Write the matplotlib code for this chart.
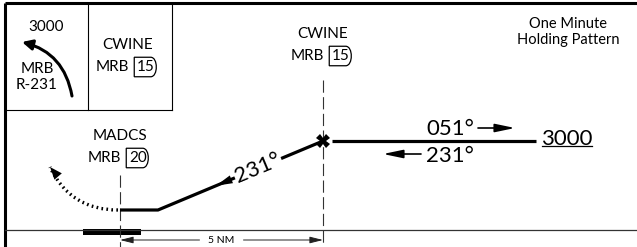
import numpy as np
import matplotlib.pyplot as plt
from matplotlib.path import Path
from matplotlib.patches import PathPatch, FancyArrowPatch, Rectangle

plt.rcParams['font.family'] = ['Lato', 'DejaVu Sans']

#===========================
# 1. PROFILE DATA (px units)
#===========================
fix_names = ["MADCS", "CWINE"]
fix_dme = ["20", "15"]
fix_x = [120, 323]
fix_label_y = [136, 34]
fix_line_top = [175, 80]

profile_x = [120, 158, 323]
profile_y = [210, 210, 141]
hold_x = [332, 536]
hold_y = [141, 141]

inbound_crs = "231°"
outbound_crs = "051°"
hold_alt = "3000"
hold_note = "One Minute\nHolding Pattern"

# procedure turn (dotted arc): start, control, end
turn_pts = [(118, 210), (70, 210), (50, 167)]

# inset box (top-left)
inset_alt = "3000"
inset_radial = "MRB\nR-231"
inset_arc = [(72, 96), (22, 42)]
inset_fix = "CWINE"
inset_dme = "15"

ground_y = 230
runway_x = [83, 141]
dist_label = "5 NM"
dist_y = 240


#=================
# 2. HELPERS
#=================
def dme_box(x0, y0, width, height, mutation_size):
    """square-left, rounded-right box used for DME fixes"""
    pad = 0.18 * mutation_size
    x0, y0 = x0 - pad, y0 - pad
    x1, y1 = x0 + width + 2 * pad, y0 + height + 2 * pad
    c = 0.35 * (y1 - y0)
    verts = [(x0, y0), (x1 - c, y0), (x1 + 0.1 * c, y0), (x1 + 0.1 * c, y1),
             (x1 - c, y1), (x0, y1), (x0, y0)]
    codes = [Path.MOVETO, Path.LINETO, Path.CURVE4, Path.CURVE4, Path.CURVE4,
             Path.LINETO, Path.CLOSEPOLY]
    return Path(verts, codes)


def fix_label(ax, x, y, name, dme, fs=11):
    ax.text(x, y, name, ha='center', va='center', fontsize=fs)
    ax.text(x + 1, y + 22, "MRB", ha='right', va='center', fontsize=fs)
    ax.text(x + 9, y + 22, dme, ha='left', va='center', fontsize=fs,
            bbox=dict(boxstyle=dme_box, fc='white', ec='black', lw=0.9))


#=================
# 3. FIGURE
#=================
fig = plt.figure(figsize=(6.37, 2.47), dpi=100)
ax = fig.add_axes([0, 0, 1, 1])
ax.set_xlim(0, 637)
ax.set_ylim(247, 0)
ax.axis('off')

# frame
ax.plot([5, 637], [3, 3], color='black', lw=2.2, solid_capstyle='butt')
ax.plot([5, 5], [3, 247], color='black', lw=2.2, solid_capstyle='butt')
ax.plot([88, 88], [3, 110], color='black', lw=0.8)
ax.plot([172, 172], [3, 110], color='black', lw=0.8)
ax.plot([5, 172], [110, 110], color='black', lw=0.8)

# ground + runway
ax.plot([5, 637], [ground_y, ground_y], color='#333333', lw=0.9)
ax.add_patch(Rectangle((runway_x[0], ground_y - 1), runway_x[1] - runway_x[0], 6,
                       color='black', lw=0))

# fix lines and labels
for name, dme, fx, ly, top in zip(fix_names, fix_dme, fix_x, fix_label_y, fix_line_top):
    ax.plot([fx, fx], [top, 247], color='#333333', lw=0.8, linestyle=(0, (11, 4)))
    fix_label(ax, fx, ly, name, dme)

# distance line
mid = (fix_x[0] + fix_x[1]) / 2
ax.text(mid, dist_y, dist_label, ha='center', va='center', fontsize=7.5)
for end in fix_x:
    ax.annotate("", xy=(end, dist_y), xytext=(mid + np.sign(end - mid) * 22, dist_y),
                arrowprops=dict(arrowstyle='-|>,head_length=0.8,head_width=0.2',
                                color='#222222', lw=0.7, shrinkA=0, shrinkB=0))

# profile
ax.plot(profile_x, profile_y, color='black', lw=2.3, solid_capstyle='butt')
ax.plot(hold_x, hold_y, color='black', lw=2.3, solid_capstyle='butt')
ax.plot(profile_x[-1], profile_y[-1], marker='X', ms=10, color='black', mew=0)

ang = np.degrees(np.arctan2(profile_y[1] - profile_y[2], profile_x[2] - profile_x[1]))
slope = (profile_y[2] - profile_y[1]) / (profile_x[2] - profile_x[1])
tx = 258
ax.text(tx, profile_y[1] + slope * (tx - profile_x[1]), inbound_crs, rotation=ang,
        rotation_mode='anchor', ha='center', va='center', fontsize=16,
        bbox=dict(boxstyle='square,pad=0.05', fc='white', ec='none'))
ax.annotate("", xy=(216, profile_y[1] + slope * (216 - profile_x[1])),
            xytext=(233, profile_y[1] + slope * (233 - profile_x[1])),
            arrowprops=dict(arrowstyle='-|>,head_length=1.2,head_width=0.3',
                            color='black', lw=0, shrinkA=0, shrinkB=0))

# holding legs
ax.text(450, 129, outbound_crs, ha='center', va='center', fontsize=16)
ax.annotate("", xy=(515, 128), xytext=(478, 128),
            arrowprops=dict(arrowstyle='-|>,head_length=1.2,head_width=0.25',
                            color='black', lw=1.2, shrinkA=0, shrinkB=0))
ax.text(450, 156, inbound_crs, ha='center', va='center', fontsize=16)
ax.annotate("", xy=(383, 154), xytext=(421, 154),
            arrowprops=dict(arrowstyle='-|>,head_length=1.2,head_width=0.25',
                            color='black', lw=1.2, shrinkA=0, shrinkB=0))
t_alt = ax.text(541, 139, hold_alt, ha='left', va='center', fontsize=16)
ax.text(568, 32, hold_note, ha='center', va='center', fontsize=10.5,
        linespacing=1.1)

# procedure turn
turn = Path(turn_pts, [Path.MOVETO, Path.CURVE3, Path.CURVE3])
ax.add_patch(PathPatch(turn, fc='none', ec='black', lw=2.4, linestyle=(0, (0.5, 1.0))))
ax.annotate("", xy=turn_pts[2], xytext=(turn_pts[2][0] + 6, turn_pts[2][1] + 7),
            arrowprops=dict(arrowstyle='-|>,head_length=0.9,head_width=0.35',
                            color='black', lw=0, shrinkA=0, shrinkB=0))

# inset box
ax.text(46, 27, inset_alt, ha='center', va='center', fontsize=11)
ax.text(37, 77, inset_radial, ha='center', va='center', fontsize=11,
        linespacing=1.15)
ax.add_patch(FancyArrowPatch(inset_arc[0], inset_arc[1],
                             connectionstyle='arc3,rad=0.32',
                             arrowstyle='-|>,head_length=6,head_width=3',
                             color='black', lw=2.2, shrinkA=0, shrinkB=0))
fix_label(ax, 128, 45, inset_fix, inset_dme)

# underline altitude, just under the digits
fig.canvas.draw()
bb = t_alt.get_window_extent().transformed(ax.transData.inverted())
uy = max(bb.y0, bb.y1) - 3
ax.plot([bb.x0 + 1, bb.x1 - 1], [uy, uy], color='black', lw=0.9)

fig.savefig('out.png', dpi=100)
